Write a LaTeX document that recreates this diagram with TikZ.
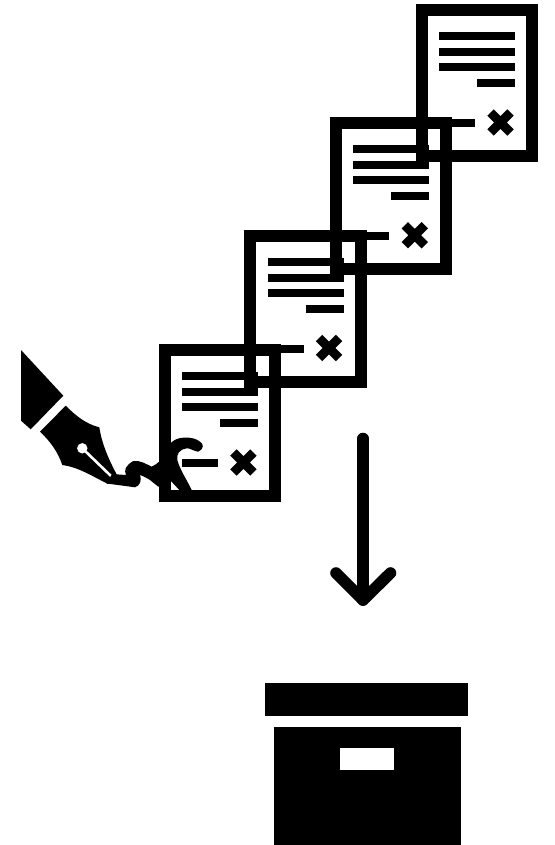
\documentclass[tikz,border=0pt]{standalone}
\tikzset{
  docframe/.style={draw=black,line width=12pt,line join=miter},
  arrowstroke/.style={draw=black,line width=11.6pt,line cap=round,line join=round}
}
\newcommand{\docsheet}[2]{%
 \begin{scope}[shift={(#1,#2)}]
  \draw[docframe] (421.8,10) rectangle (532,156);
  \fill (439,32) rectangle (515,40);
  \fill (439,48) rectangle (515,56);
  \fill (439,63) rectangle (515,71);
  \fill (477,79) rectangle (515,87);
  \fill (439,119) rectangle (475,127);
  \draw[black,line width=9pt] (490.5,112.5) -- (510.5,132.5) (510.5,112.5) -- (490.5,132.5);
 \end{scope}}
\begin{document}
\begin{tikzpicture}[x=1pt,y=-1pt]
\useasboundingbox (0,0) rectangle (554,845);
\docsheet{0}{0}
\docsheet{-85.7}{112.7}
\docsheet{-171.4}{225.5}
\docsheet{-257.1}{340}
% pen cap
\fill (21,350) -- (63.3,395.7) -- (30.7,429.3) -- (21,420.7) -- cycle;
% nib
\fill (65.7,405.7) .. controls (76,416) and (86,424) .. (99.3,427.3)
  .. controls (102,445) and (110,462) .. (117,475)
  -- (108,484)
  .. controls (92,476) and (78,467) .. (62.3,465)
  .. controls (58,452) and (50,441) .. (40,431.7) -- cycle;
\fill[white] (82.3,448.3) circle (5.2pt);
\draw[white,line width=2.6pt] (82.3,448.3) -- (111.7,476.7);
% signature
\fill (112,474) -- (126,475)
  .. controls (124,470) and (125,466) .. (133.3,461)
  .. controls (140,460) and (146,464) .. (151.7,466.7)
  .. controls (157,464) and (163,460) .. (165,452)
  .. controls (167,445) and (174,438) .. (183.3,437.7)
  .. controls (191,437) and (197,439) .. (200,441.7)
  .. controls (204,444) and (204,449) .. (198.3,451.7)
  .. controls (193,451) and (190,448) .. (186.7,448.3)
  .. controls (180,449) and (176,454) .. (177.3,460)
  .. controls (180,470) and (187,480) .. (191.7,490)
  -- (179.3,490) -- (170,480)
  -- (158.3,486.7) -- (150,480)
  .. controls (147,478) and (143,476) .. (140,475)
  .. controls (142,480) and (140,486) .. (135,487.3)
  -- (106.7,483.5) -- cycle;
% arrow
\draw[arrowstroke] (363,438.5) -- (363,600);
\draw[arrowstroke] (336,573) -- (363,600) -- (390.5,573);
% box
\fill (265,683) rectangle (468,716);
\fill (274,727) rectangle (460.5,845);
\fill[white] (340,748) rectangle (394,770);
\end{tikzpicture}
\end{document}
